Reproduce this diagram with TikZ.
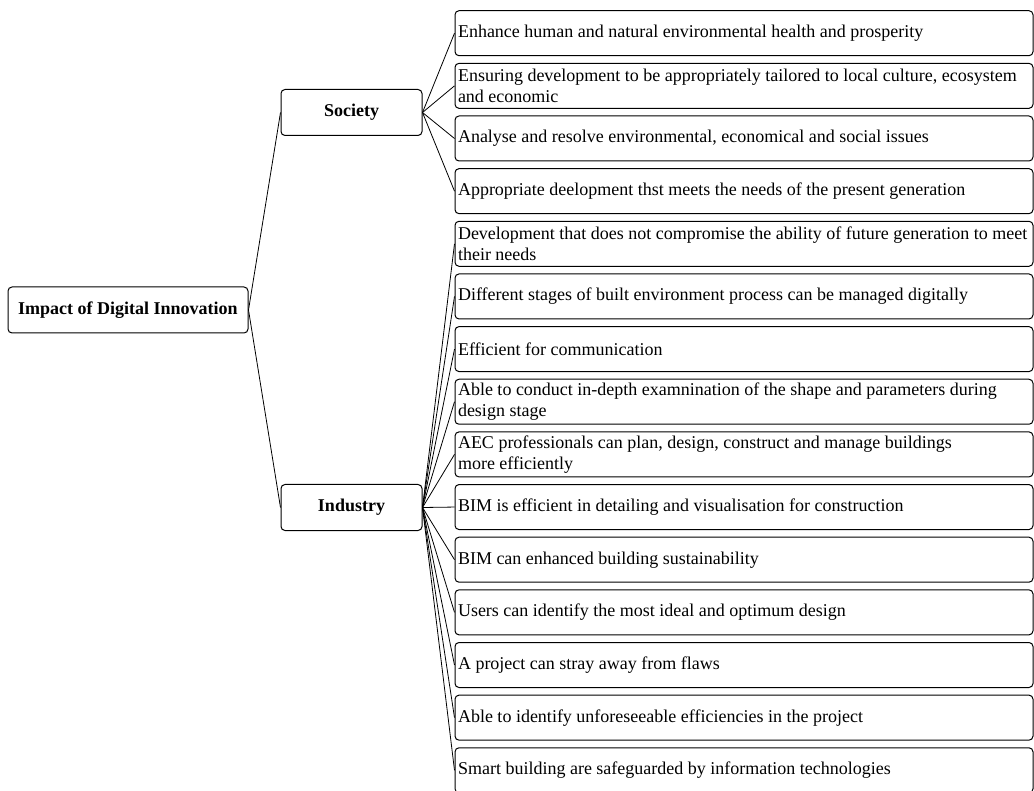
\documentclass[tikz,border=0pt]{standalone}
\usepackage{fontspec}
\setmainfont{Liberation Serif}
\begin{document}
\begin{tikzpicture}[x=1pt,y=-1pt,
  box/.style={draw=black,line width=1pt,rounded corners=4pt,inner sep=0pt,
    font=\fontsize{18}{21}\selectfont},
  topbox/.style={box,minimum height=46pt,font=\fontsize{18}{21}\selectfont\bfseries},
  midbox/.style={box,minimum width=141pt,minimum height=46pt,font=\fontsize{18}{21}\selectfont\bfseries},
  leaf/.style={box,minimum width=578pt,minimum height=45pt,text width=572pt,inner xsep=3pt,align=flush left},
  link/.style={draw=black,line width=0.8pt}]
\useasboundingbox (0,0) rectangle (1034,791);

\node[topbox,minimum width=240pt] (root) at (128,310) {Impact of Digital Innovation};
\node[midbox] (soc) at (351.5,112.5) {Society};
\node[midbox] (ind) at (351.5,507.5) {Industry};

\node[leaf] (c0) at (744,33.2) {Enhance human and natural environmental health and prosperity};
\node[leaf] (c1) at (744,85.85) {Ensuring development to be appropriately tailored to local culture, ecosystem\\and economic};
\node[leaf] (c2) at (744,138.5) {Analyse and resolve environmental, economical and social issues};
\node[leaf] (c3) at (744,191.15) {Appropriate deelopment thst meets the needs of the present generation};
\node[leaf] (c4) at (744,243.8) {Development that does not compromise the ability of future generation to meet\\their needs};
\node[leaf] (c5) at (744,296.45) {Different stages of built environment process can be managed digitally};
\node[leaf] (c6) at (744,349.1) {Efficient for communication};
\node[leaf] (c7) at (744,401.75) {Able to conduct in-depth examnination of the shape and parameters during\\design stage};
\node[leaf] (c8) at (744,454.4) {AEC professionals can plan, design, construct and manage buildings\\more efficiently};
\node[leaf] (c9) at (744,507.05) {BIM is efficient in detailing and visualisation for construction};
\node[leaf] (c10) at (744,559.7) {BIM can enhanced building sustainability};
\node[leaf] (c11) at (744,612.35) {Users can identify the most ideal and optimum design};
\node[leaf] (c12) at (744,665.0) {A project can stray away from flaws};
\node[leaf] (c13) at (744,717.65) {Able to identify unforeseeable efficiencies in the project};
\node[leaf] (c14) at (744,770.3) {Smart building are safeguarded by information technologies};

\draw[link] (root.east) -- (soc.west);
\draw[link] (root.east) -- (ind.west);
\foreach \k in {0,...,3} {\draw[link] (soc.east) -- (c\k.west);}
\foreach \k in {4,...,14} {\draw[link] (ind.east) -- (c\k.west);}
\end{tikzpicture}
\end{document}
